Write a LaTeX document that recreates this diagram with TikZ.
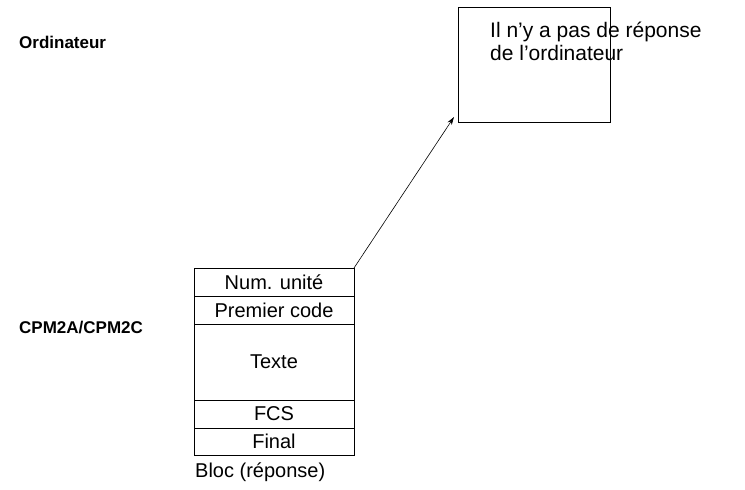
\documentclass[tikz,border=0pt]{standalone}
\usepackage{fontspec}
\setmainfont{Liberation Sans}
\usetikzlibrary{positioning, arrows.meta}

\begin{document}
\begin{tikzpicture}[x=1pt, y=-1pt,
    field/.style={draw=black, line width=0.8pt, minimum width=160pt, inner sep=0pt, outer sep=0pt, font=\fontsize{20}{22}\selectfont},
    side/.style={font=\fontsize{17}{19}\selectfont\bfseries, anchor=west, inner sep=0pt},
    arrow/.style={-{Stealth[length=8pt, width=5pt]}, line width=0.6pt}
]
    \useasboundingbox (0,0) rectangle (745,490);
    % Labels left
    \node[side] (pc) at (19, 42) {Ordinateur};
    \node[side] (plc) at (19, 328) {CPM2A/CPM2C};

    % Response box
    \node[draw=black, line width=0.8pt, outer sep=0pt, minimum width=152pt, minimum height=115pt, anchor=north west] (noresp) at (458, 7) {};
    \node[anchor=base west, align=left, inner sep=0pt, font=\fontsize{21}{23}\selectfont] (noresptext) at (490, 60) {Il n’y a pas de réponse\\de l’ordinateur};

    % Block
    \node[field, minimum height=28pt, anchor=north west] (unit) at (194, 268) {Num. unité};
    \node[field, minimum height=28pt, below=0pt of unit] (code) {Premier code};
    \node[field, minimum height=76pt, below=0pt of code] (text) {Texte};
    \node[field, minimum height=28pt, below=0pt of text] (fcs) {FCS};
    \node[field, minimum height=27pt, below=0pt of fcs] (final) {Final};
    \node[font=\fontsize{20}{22}\selectfont, anchor=north west, inner sep=0pt] (blocklabel) at (195, 463) {Bloc (réponse)};

    % Arrow
    \draw[arrow] (unit.north east) -- ([shift={(-4pt,5pt)}]noresp.south west);
\end{tikzpicture}
\end{document}
